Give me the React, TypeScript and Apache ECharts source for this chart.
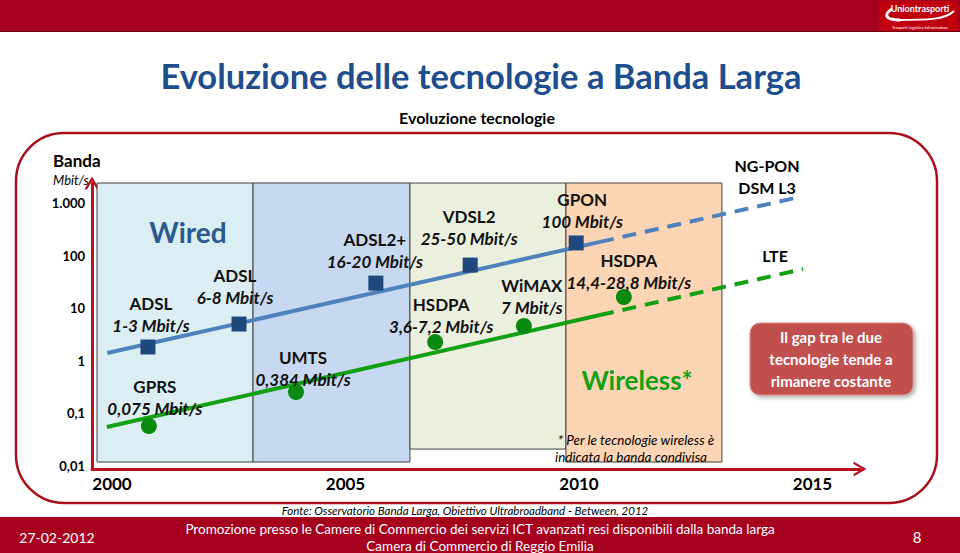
import React, { useEffect, useRef } from 'react';
import * as echarts from 'echarts';

// ---- axis ticks ----
const yTickValues = [0.01, 0.1, 1, 10, 100, 1000];
const yTickLabels = ['0,01', '0,1', '1', '10', '100', '1.000'];
const xTickYears = [2000, 2005, 2010, 2015];

// ---- wired technologies (blue squares) ----
const wiredYears = [2000.77, 2002.72, 2005.65, 2007.67, 2009.94];
const wiredValues = [1.83, 5.0, 30, 66, 174];
const wiredNames = ['ADSL', 'ADSL', 'ADSL2+', 'VDSL2', 'GPON'];
const wiredSpeeds = ['1-3 Mbit/s', '6-8 Mbit/s', '16-20 Mbit/s', '25-50 Mbit/s', '100 Mbit/s'];

// ---- wireless technologies (green circles) ----
const wirelessYears = [2000.79, 2003.94, 2006.92, 2008.82, 2010.96];
const wirelessValues = [0.0575, 0.255, 2.27, 4.59, 16.3];
const wirelessNames = ['GPRS', 'UMTS', 'HSDPA', 'WiMAX', 'HSDPA'];
const wirelessSpeeds = ['0,075 Mbit/s', '0,384 Mbit/s', '3,6-7,2 Mbit/s', '7 Mbit/s', '14,4-28,8 Mbit/s'];

// ---- trend lines (solid part then dashed forecast) ----
const wiredTrendYears = [1999.9, 2010.45, 2014.63];
const wiredTrendValues = [1.41, 182, 1247];
const wirelessTrendYears = [1999.89, 2010.45, 2014.8];
const wirelessTrendValues = [0.055, 7.4, 55.6];

// ---- background period bands ----
const bandStartYears = [1999.68, 2003.02, 2006.38, 2009.72];
const bandEndYears = [2003.02, 2006.38, 2009.72, 2013.06];
const bandBottomValues = [0.0119, 0.0119, 0.021, 0.0119];

// axis extents
const X_MIN = 1999.572;
const X_MAX = 2016.017;
const Y_MIN = 0.00877;
const Y_MAX = 2399;

// styling (not data)
const bandColors = ['#DBEEF4', '#C6D9F1', '#EBF0DE', '#FCD5B5'];
const wiredLabelOffsets = [[3, -2.5], [-4, -8.5], [-1, -3.5], [-1, -8.5], [6, -2.5]];
const wirelessLabelOffsets = [[6, 1], [7, 6], [6, 3], [8, 1], [5, 4]];

const FONT = 'Lato, "Open Sans", sans-serif';
const RED = '#A6001F';
const AXIS_RED = '#B8121B';
const ARROW = 'path://M0,12 L7,0 L14,12 L11.6,12 L7,4.2 L2.4,12 Z';

function labelRich() {
  return {
    n: { fontSize: 17, fontWeight: 'bold', fontFamily: FONT, color: '#111', lineHeight: 22, align: 'center' },
    s: { fontSize: 17, fontWeight: 'bold', fontStyle: 'italic', fontFamily: FONT, color: '#111', lineHeight: 22, align: 'center' },
  };
}

function txt(x: number, y: number, text: string, font: string, fill = '#000', align = 'center') {
  return {
    type: 'text',
    x,
    y,
    z: 100,
    style: { text, font, fill, textAlign: align, textVerticalAlign: 'middle' },
  };
}

export default function App() {
  const ref = useRef<HTMLDivElement>(null);

  useEffect(() => {
    if (!ref.current) return;
    const chart = echarts.init(ref.current, null, { renderer: 'svg' });

    const bandData = bandStartYears.map((s, i) => [
      {
        xAxis: s,
        yAxis: bandBottomValues[i],
        itemStyle: { color: bandColors[i], borderColor: '#404040', borderWidth: 1 },
      },
      { xAxis: bandEndYears[i], yAxis: Y_MAX },
    ]);

    const option: any = {
      animation: false,
      backgroundColor: '#fff',
      grid: { left: 92, right: 100, top: 183, bottom: 84, containLabel: false },
      xAxis: {
        type: 'value',
        min: X_MIN,
        max: X_MAX,
        axisLine: {
          show: true,
          onZero: false,
          lineStyle: { color: AXIS_RED, width: 3 },
          symbol: ['none', ARROW],
          symbolSize: [16, 13],
        },
        axisTick: { show: false },
        splitLine: { show: false },
        axisLabel: {
          customValues: xTickYears,
          formatter: (v: number) => String(Math.round(v)),
          fontSize: 17,
          fontWeight: 'bold',
          fontFamily: FONT,
          color: '#000',
          margin: 6,
        },
      },
      yAxis: {
        type: 'log',
        logBase: 10,
        min: Y_MIN,
        max: Y_MAX,
        axisLine: {
          show: true,
          onZero: false,
          lineStyle: { color: AXIS_RED, width: 3 },
          symbol: ['none', ARROW],
          symbolSize: [16, 13],
        },
        axisTick: { show: false },
        splitLine: { show: false },
        axisLabel: {
          formatter: (v: number) => {
            const idx = yTickValues.findIndex((t) => Math.abs(Math.log10(t) - Math.log10(v)) < 0.01);
            return idx >= 0 ? yTickLabels[idx] : '';
          },
          fontSize: 13,
          fontWeight: 'bold',
          fontFamily: FONT,
          color: '#000',
          margin: 7,
        },
      },
      series: [
        {
          name: 'bands',
          type: 'line',
          data: [],
          z: 0,
          silent: true,
          markArea: { silent: true, label: { show: false }, data: bandData },
        },
        {
          name: 'wired trend',
          type: 'line',
          z: 2,
          showSymbol: false,
          symbol: 'none',
          data: wiredTrendYears.slice(0, 2).map((y, i) => [y, wiredTrendValues[i]]),
          lineStyle: { color: '#4F81BD', width: 4 },
        },
        {
          name: 'wired forecast',
          type: 'line',
          z: 2,
          showSymbol: false,
          symbol: 'none',
          data: wiredTrendYears.slice(1).map((y, i) => [y, wiredTrendValues[i + 1]]),
          lineStyle: { color: '#4F81BD', width: 4, type: [14, 9] },
        },
        {
          name: 'wireless trend',
          type: 'line',
          z: 2,
          showSymbol: false,
          symbol: 'none',
          data: wirelessTrendYears.slice(0, 2).map((y, i) => [y, wirelessTrendValues[i]]),
          lineStyle: { color: '#14A014', width: 4 },
        },
        {
          name: 'wireless forecast',
          type: 'line',
          z: 2,
          showSymbol: false,
          symbol: 'none',
          data: wirelessTrendYears.slice(1).map((y, i) => [y, wirelessTrendValues[i + 1]]),
          lineStyle: { color: '#14A014', width: 4, type: [14, 9] },
        },
        {
          name: 'wired',
          type: 'scatter',
          z: 3,
          symbol: 'rect',
          symbolSize: 15,
          itemStyle: { color: '#1F497D', opacity: 1 },
          data: wiredYears.map((y, i) => ({
            value: [y, wiredValues[i]],
            label: { offset: wiredLabelOffsets[i] },
          })),
          label: {
            show: true,
            position: 'top',
            distance: 0,
            formatter: (p: any) => `{n|${wiredNames[p.dataIndex]}}\n{s|${wiredSpeeds[p.dataIndex]}}`,
            rich: labelRich(),
          },
        },
        {
          name: 'wireless',
          type: 'scatter',
          z: 3,
          symbol: 'circle',
          symbolSize: 16,
          itemStyle: { color: '#0A8A10', opacity: 1 },
          data: wirelessYears.map((y, i) => ({
            value: [y, wirelessValues[i]],
            label: { offset: wirelessLabelOffsets[i] },
          })),
          label: {
            show: true,
            position: 'top',
            distance: 0,
            formatter: (p: any) => `{n|${wirelessNames[p.dataIndex]}}\n{s|${wirelessSpeeds[p.dataIndex]}}`,
            rich: labelRich(),
          },
        },
      ],
      graphic: {
        elements: [
          // top bar
          { type: 'rect', shape: { x: 0, y: 0, width: 960, height: 32 }, style: { fill: RED }, z: 50 },
          { type: 'line', shape: { x1: 0, y1: 31.5, x2: 960, y2: 31.5 }, style: { stroke: '#6E0014', lineWidth: 1 }, z: 51 },
          // logo
          { type: 'rect', shape: { x: 879, y: 1, width: 78, height: 30 }, style: { fill: '#C1000F' }, z: 52 },
          {
            type: 'bezierCurve',
            shape: { x1: 892, y1: 9, cpx1: 884, cpy1: 14, cpx2: 884, cpy2: 20, x2: 900, y2: 20 },
            style: { stroke: '#fff', lineWidth: 3, fill: 'none' },
            z: 53,
          },
          {
            type: 'bezierCurve',
            shape: { x1: 900, y1: 20, cpx1: 925, cpy1: 20, cpx2: 945, cpy2: 20, x2: 954, y2: 11 },
            style: { stroke: '#fff', lineWidth: 2, fill: 'none' },
            z: 53,
          },
          txt(920, 8, 'Uniontrasporti', 'bold 9px ' + FONT, '#fff'),
          txt(920, 27, 'Trasporti Logistica Infrastrutture', '4px ' + FONT, '#fff'),
          // title
          txt(481, 75, 'Evoluzione delle tecnologie a Banda Larga', 'bold 34.5px ' + FONT, '#1F4E8F'),
          txt(477, 117, 'Evoluzione tecnologie', 'bold 16px ' + FONT, '#000'),
          // frame
          {
            type: 'rect',
            shape: { x: 16, y: 133, width: 921, height: 370, r: 48 },
            style: { fill: 'none', stroke: '#A8101C', lineWidth: 2.5 },
            z: 40,
          },
          txt(53, 160, 'Banda', 'bold 17px ' + FONT, '#000', 'left'),
          txt(53, 180, 'Mbit/s', 'italic 13px ' + FONT, '#000', 'left'),
          // region titles
          txt(188, 232, 'Wired', 'bold 28px ' + FONT, '#2A5A8E'),
          txt(637, 380, 'Wireless*', 'bold 26px ' + FONT, '#14A014'),
          txt(767, 165, 'NG-PON', 'bold 16px ' + FONT, '#000'),
          txt(767, 187, 'DSM L3', 'bold 16px ' + FONT, '#000'),
          txt(775, 255, 'LTE', 'bold 16px ' + FONT, '#000'),
          txt(636, 440, '* Per le tecnologie wireless è', 'italic 13.5px ' + FONT, '#000'),
          txt(631, 457, 'indicata la banda condivisa', 'italic 13.5px ' + FONT, '#000'),
          // callout
          {
            type: 'rect',
            shape: { x: 750, y: 323, width: 163, height: 72, r: 10 },
            style: {
              fill: '#C0504D',
              stroke: '#D88A88',
              lineWidth: 1,
              shadowBlur: 4,
              shadowOffsetX: 2,
              shadowOffsetY: 2,
              shadowColor: 'rgba(0,0,0,0.35)',
            },
            z: 60,
          },
          txt(831, 337, 'Il gap tra le due', 'bold 15px ' + FONT, '#fff'),
          txt(831, 359, 'tecnologie tende a', 'bold 15px ' + FONT, '#fff'),
          txt(831, 381, 'rimanere costante', 'bold 15px ' + FONT, '#fff'),
          // source
          txt(465, 510, 'Fonte: Osservatorio Banda Larga, Obiettivo Ultrabroadband - Between, 2012', 'italic 11.5px ' + FONT, '#000'),
          // bottom bar
          { type: 'rect', shape: { x: 0, y: 517, width: 960, height: 36 }, style: { fill: RED }, z: 50 },
          txt(57, 537, '27-02-2012', '14px ' + FONT, '#fff'),
          txt(480, 529, 'Promozione presso le Camere di Commercio dei servizi ICT avanzati resi disponibili dalla banda larga', '13.5px ' + FONT, '#fff'),
          txt(480, 546, 'Camera di Commercio di Reggio Emilia', '13.5px ' + FONT, '#fff'),
          txt(917, 537, '8', '15px ' + FONT, '#fff'),
        ],
      },
    };

    chart.setOption(option);
    return () => chart.dispose();
  }, []);

  return <div ref={ref} style={{ position: 'fixed', left: 0, top: 0, width: 960, height: 553 }} />;
}
